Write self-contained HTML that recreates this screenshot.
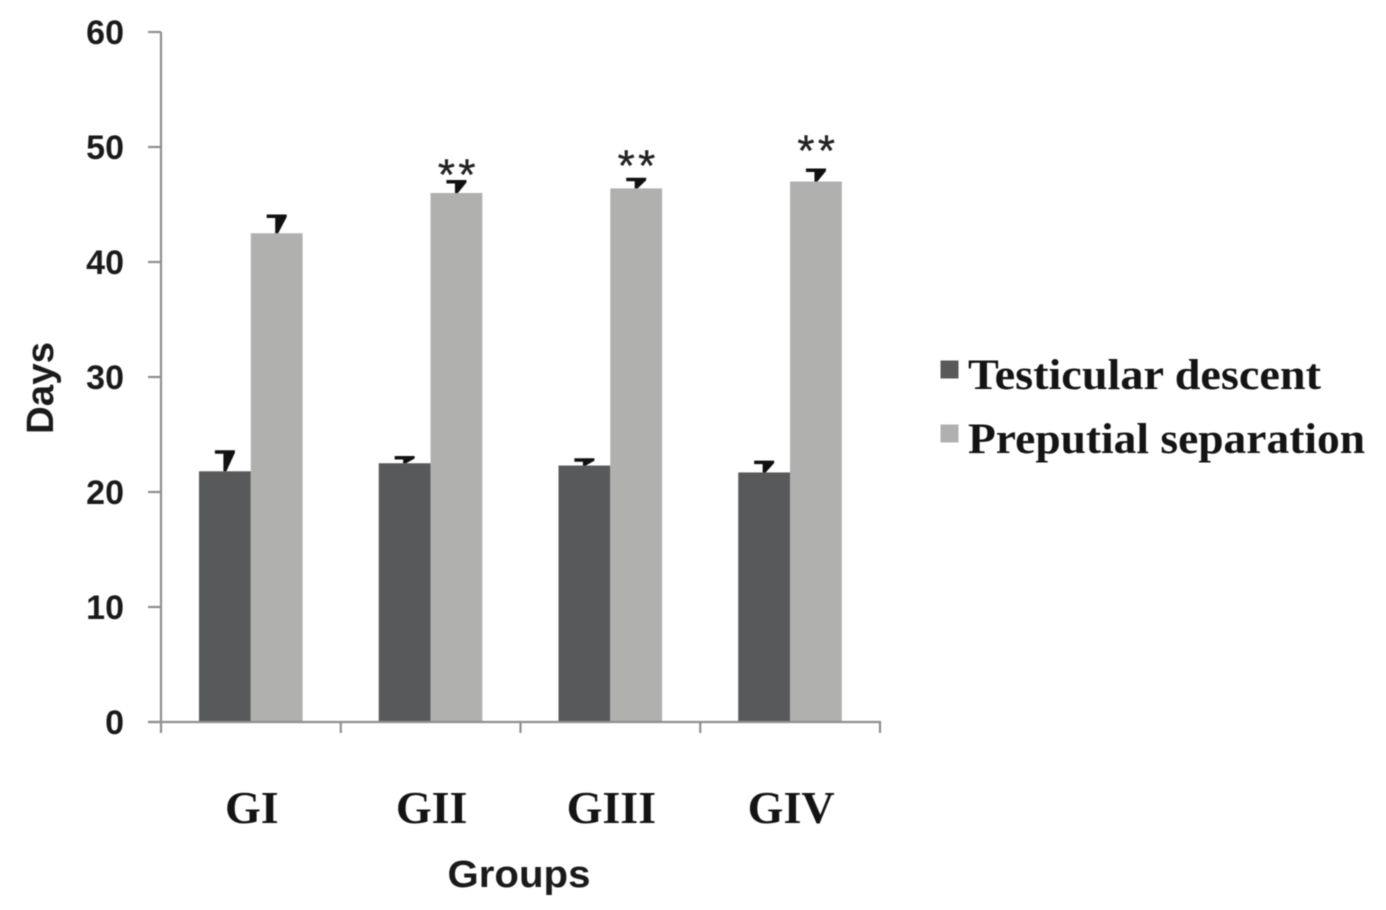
<!DOCTYPE html>
<html lang="en">
<head>
<meta charset="utf-8">
<title>Days by group</title>
<style>
html,body{margin:0;padding:0;background:#fff;width:1386px;height:910px;overflow:hidden}
svg{display:block;filter:blur(0.5px)}
.sans{font-family:"Liberation Sans",sans-serif;font-weight:700;fill:#1a1a1a}
.serif{font-family:"Liberation Serif",serif;font-weight:700;fill:#141414}
</style>
</head>
<body>
<svg id="chart" xmlns="http://www.w3.org/2000/svg" width="1386" height="910" viewBox="0 0 1386 910">
  <g id="plot"></g>
  <text class="sans" transform="translate(53,388) rotate(-90)" text-anchor="middle" font-size="38" textLength="92" lengthAdjust="spacingAndGlyphs">Days</text>
  <text class="sans" x="519" y="887" text-anchor="middle" font-size="38" textLength="143" lengthAdjust="spacingAndGlyphs">Groups</text>
  <rect x="940.5" y="360.5" width="18" height="18" fill="#58595b"/>
  <text class="serif" x="968" y="389" font-size="43" textLength="353" lengthAdjust="spacingAndGlyphs">Testicular descent</text>
  <rect x="940.5" y="424.5" width="18" height="18" fill="#b0b0ae"/>
  <text class="serif" x="968" y="453" font-size="43" textLength="397" lengthAdjust="spacingAndGlyphs">Preputial separation</text>
</svg>
<script>
const categories = ["GI", "GII", "GIII", "GIV"];
const testicularDescent = [21.8, 22.5, 22.3, 21.7];
const preputialSeparation = [42.5, 46.0, 46.4, 47.0];
const testicularError = [1.7, 0.5, 0.5, 0.9];
const preputialError = [1.5, 1.0, 0.8, 1.0];
const significance = ["", "**", "**", "**"];
const significanceLevel = [0, 48.2, 49.0, 50.3];
const yTicks = [0, 10, 20, 30, 40, 50, 60];

const NS = "http://www.w3.org/2000/svg";
const plot = document.getElementById("plot");
const svgRoot = document.getElementById("chart");
const x0 = 161, x1 = 880, yBase = 722, yTop = 32, yMax = 60;
const yScale = v => yBase - (v / yMax) * (yBase - yTop);
const groupW = (x1 - x0) / categories.length;
const groupX = i => x0 + i * groupW;
const barW = 51.8;

function make(tag, attrs, parent) {
  const el = document.createElementNS(NS, tag);
  for (const k in attrs) el.setAttribute(k, attrs[k]);
  (parent || plot).appendChild(el);
  return el;
}

function drawBar(x, value, err, fill, name) {
  const bar = make("rect", {x: x, y: yScale(value), width: barW, height: yBase - yScale(value), fill: fill});
  
  
  const cx = x + barW / 2;
  const top = yScale(value + err);
  const bot = yScale(value);
  const wedge = make("path", {
    d: "M" + (cx - 10) + " " + (top - 1.5) + " L" + (cx + 10) + " " + (top - 1.5) +
       " L" + (cx + 10) + " " + (top + 1) + " L" + (cx + 1.5) + " " + bot +
       " L" + (cx - 1.5) + " " + bot + " L" + (cx - 1.5) + " " + (top + 2) +
       " L" + (cx - 10) + " " + (top + 2) + " Z",
    fill: "#111"
  });
  
  
}

categories.forEach((c, i) => {
  const start = groupX(i) + 38;
  drawBar(start, testicularDescent[i], testicularError[i], "#58595b", "bar-testicular-" + c.toLowerCase());
  drawBar(start + barW, preputialSeparation[i], preputialError[i], "#b0b0ae", "bar-preputial-" + c.toLowerCase());

  if (significance[i]) {
    const star = make("text", {
      x: start + barW * 1.5 + 2,
      y: yScale(significanceLevel[i]) + 22,
      "text-anchor": "middle",
      "font-size": 44,
      "letter-spacing": "3.5",
      "font-family": '"Liberation Sans",sans-serif',
      fill: "#222",
      stroke: "#222",
      "stroke-width": 0.4
    }, svgRoot);
    star.textContent = significance[i];
    
    
  }

  const label = make("text", {
    x: groupX(i) + groupW / 2 + 1,
    y: 823,
    "text-anchor": "middle",
    "font-size": 46,
    "class": "serif"
  }, svgRoot);
  label.textContent = c;
  
  
});

const axisColor = "#8e8f91";
const yAxis = make("line", {x1: x0, x2: x0, y1: yTop, y2: yBase + 11, stroke: axisColor, "stroke-width": 2.2});


const xAxis = make("line", {x1: x0 - 13, x2: x1 + 1, y1: yBase, y2: yBase, stroke: axisColor, "stroke-width": 2.2});



yTicks.forEach(t => {
  const y = yScale(t);
  const tick = make("line", {x1: x0 - 13, x2: x0, y1: y, y2: y, stroke: axisColor, "stroke-width": 2.2});
  
  
  const label = make("text", {x: 124, y: y + 12, "text-anchor": "end", "font-size": 34, "class": "sans"}, svgRoot);
  label.textContent = t;
  
  
});

for (let i = 1; i <= categories.length; i++) {
  const tick = make("line", {x1: groupX(i), x2: groupX(i), y1: yBase, y2: yBase + 11, stroke: axisColor, "stroke-width": 2.2});
  
  
}
</script>
</body>
</html>
